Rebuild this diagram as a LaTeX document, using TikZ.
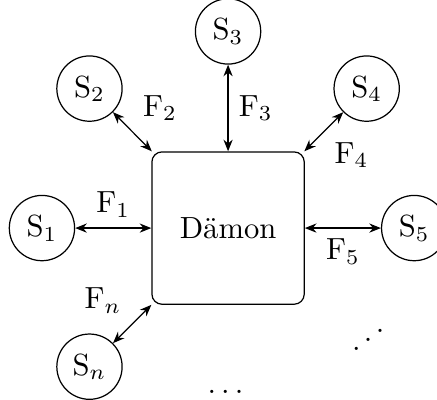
\documentclass[tikz,border=0pt]{standalone}
\usepackage{amsmath,amssymb}
\usetikzlibrary{arrows.meta,positioning}

\begin{document}
\begin{tikzpicture}[
  sys/.style={draw, circle, minimum size=0.75cm, inner sep=0pt},
  daemon/.style={draw, rounded corners=3.3pt, minimum size=1.75cm},
  flow/.style={{Stealth[length=3.8pt,width=3pt]}-{Stealth[length=3.8pt,width=3pt]}}
]
\useasboundingbox (-2.62,-1.97) rectangle (2.40,2.62);
\node[daemon] (d) {Dämon};
\node[sys, left=0.874cm of d] (s1) {S$_1$};
\node[sys, above left=0.45cm and 0.44cm of d] (s2) {S$_2$};
\node[sys, above=0.995cm of d] (s3) {S$_3$};
\node[sys, above right=0.45cm and 0.44cm of d] (s4) {S$_4$};
\node[sys, right=0.874cm of d] (s5) {S$_5$};
\node[sys, below left=0.44cm and 0.44cm of d] (sn) {S$_n$};
\draw[flow] (s1) -- node[above] (f1) {F$_1$} (d);
\draw[flow] (s2) -- node[above right] (f2) {F$_2$} (d);
\draw[flow] (s3) -- node[right] (f3) {F$_3$} (d);
\draw[flow] (s4) -- node[below right] (f4) {F$_4$} (d);
\draw[flow] (s5) -- node[below] (f5) {F$_5$} (d);
\draw[flow] (sn) -- node[above left] (fn) {F$_n$} (d);
\node[anchor=base] (dots) at (0,-1.9) {$\dots$};
\node (ddots) at (1.61,-1.18) {\reflectbox{$\ddots$}};
\end{tikzpicture}
\end{document}
